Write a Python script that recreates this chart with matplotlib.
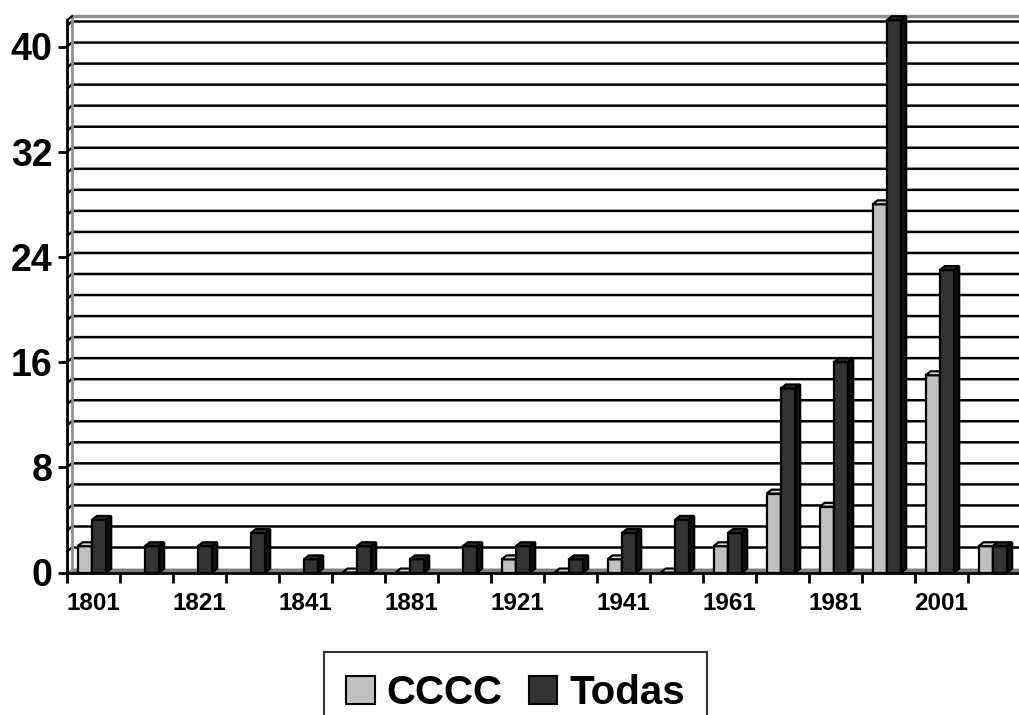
import numpy as np
import matplotlib
matplotlib.use('Agg')
import matplotlib.pyplot as plt
from matplotlib.patches import Polygon, Patch

plt.rcParams['font.family'] = ['Liberation Sans', 'DejaVu Sans']
plt.rcParams['font.weight'] = 'bold'

years = ['1801', '1811', '1821', '1831', '1841', '1861', '1881', '1901', '1921',
         '1931', '1941', '1951', '1961', '1971', '1981', '1991', '2001', '2011']
cccc = [2, None, None, None, None, 0, 0, None, 1, 0, 1, 0, 2, 6, 5, 28, 15, 2]
todas = [4, 2, 2, 3, 1, 2, 1, 2, 2, 1, 3, 4, 3, 14, 16, 42, 23, 2]
series = [('CCCC', cccc), ('Todas', todas)]

# face, top, side colours per series
colors = [('#c0c0c0', '#d4d4d4', '#8c8c8c'),
          ('#333333', '#2a2a2a', '#111111')]

W, H = 1020, 715
fig = plt.figure(figsize=(W / 100, H / 100), dpi=100)
ax = fig.add_axes([67 / W, (H - 572.5) / H, 954 / W, 552.3 / H])

n = len(years)
ymax = 42
ax.set_xlim(0, n)
ax.set_ylim(0, ymax)
dx, dy = 0.094, 0.30   # fake depth of the 3d look

# floor
ax.add_patch(Polygon([(0, 0), (n, 0), (n + dx, dy), (dx, dy)], closed=True,
                     facecolor='#808080', edgecolor='none', zorder=1, clip_on=False))
# gridlines on side and back wall
for v in np.arange(1.6, ymax, 1.6):
    ax.plot([0, dx, n + dx], [v, v + dy, v + dy], color='black', lw=1.8,
            zorder=1, clip_on=False, solid_capstyle='butt')
ax.plot([dx, dx], [dy, ymax + dy], color='#909090', lw=2, zorder=1, clip_on=False)
ax.plot([dx, n + dx], [ymax + dy, ymax + dy], color='#909090', lw=2.5, zorder=1, clip_on=False)
ax.plot([0, dx], [ymax, ymax + dy], color='black', lw=1.5, zorder=1, clip_on=False)

w = 0.27
z = 3
for i in range(n):
    for s, (name, vals) in enumerate(series):
        h = vals[i]
        if h is None:
            continue
        face, top, side = colors[s]
        xc = i + 0.20 + w / 2 + s * w
        b = ax.bar(xc, h, w, color=face, edgecolor='black', linewidth=1.6,
                   zorder=z, clip_on=False)[0]
        x0, x1 = b.get_x(), b.get_x() + b.get_width()
        ax.add_patch(Polygon([(x0, h), (x0 + dx, h + dy), (x1 + dx, h + dy), (x1, h)],
                             closed=True, facecolor=top, edgecolor='black', lw=1.6,
                             zorder=z, clip_on=False))
        ax.add_patch(Polygon([(x1, 0), (x1 + dx, dy), (x1 + dx, h + dy), (x1, h)],
                             closed=True, facecolor=side, edgecolor='black', lw=1.6,
                             zorder=z, clip_on=False))
        z += 1

for sp in ['top', 'right']:
    ax.spines[sp].set_visible(False)
for sp in ['left', 'bottom']:
    ax.spines[sp].set_linewidth(2)
    ax.spines[sp].set_zorder(z + 1)

ax.set_xticks(np.arange(0, n + 1))
ax.set_xticklabels([])
ax.set_xticks(np.arange(n) + 0.5, minor=True)
ax.set_xticklabels([y if i % 2 == 0 else '' for i, y in enumerate(years)], minor=True)
ax.tick_params(axis='x', which='major', length=7.5, width=2, direction='out')
ax.tick_params(axis='x', which='minor', length=0, pad=14, labelsize=17.5)

ax.set_yticks(np.arange(0, 41, 8))
ax.tick_params(axis='y', which='major', length=6.5, width=2, direction='out',
               pad=4, labelsize=27)

handles = [Patch(facecolor=colors[0][0], edgecolor='black', lw=1.5),
           Patch(facecolor=colors[1][0], edgecolor='black', lw=1.5)]
leg = fig.legend(handles, [s[0] for s in series], loc='upper center',
                 bbox_to_anchor=(515.5 / W, 1 - 652 / H), ncol=2,
                 prop=dict(weight='bold', size=29), frameon=True, fancybox=False,
                 edgecolor='black', handlelength=0.7, handleheight=0.7,
                 handletextpad=0.3, columnspacing=0.65, borderpad=0.55,
                 borderaxespad=0)
leg.get_frame().set_linewidth(1.5)

fig.savefig('out.png', dpi=100)
